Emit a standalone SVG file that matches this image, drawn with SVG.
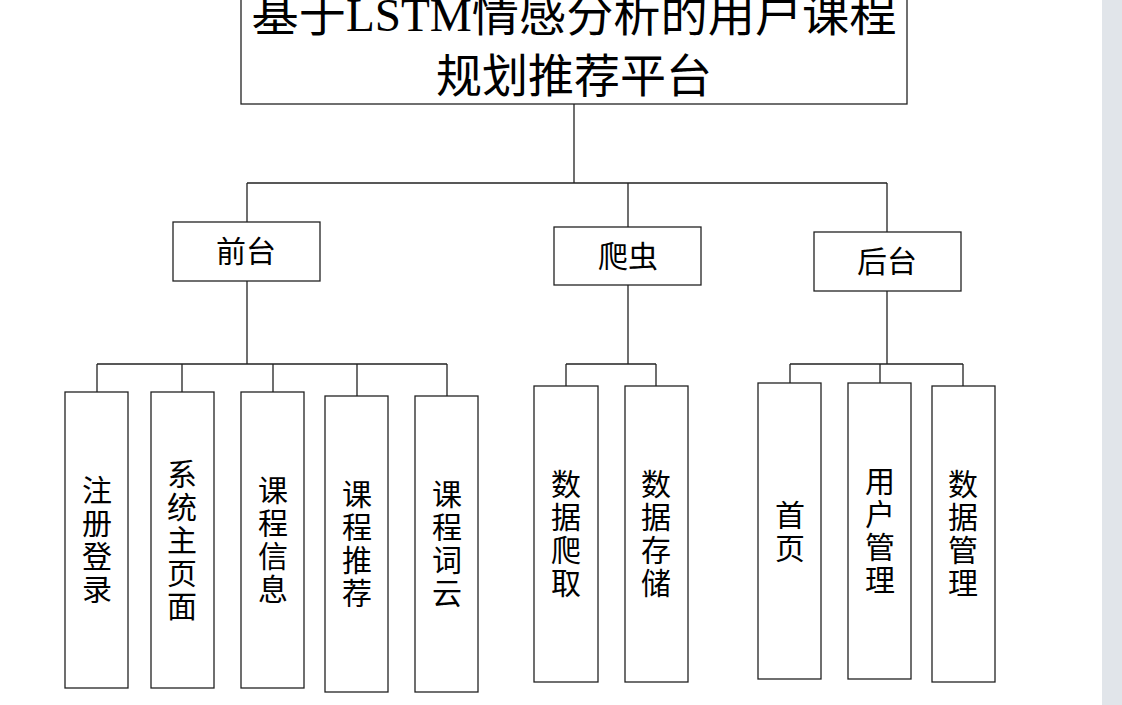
<svg xmlns="http://www.w3.org/2000/svg" width="1122" height="705" viewBox="0 0 1122 705">
<style>
.box{fill:#fff;stroke:#222;stroke-width:1.3}
.ln{fill:none;stroke:#222;stroke-width:1.3}
.t{font-family:"Noto Sans CJK SC","Liberation Serif",serif;fill:#000;text-anchor:middle}
.big{font-size:46px;font-family:"Liberation Serif","Noto Sans CJK SC",serif}
.mid{font-size:30px}
.v{font-size:30px}
</style>
<rect x="0" y="0" width="1122" height="705" fill="#fff"/>
<rect x="1102" y="0" width="20" height="705" fill="#e1e5ea"/>
<g id="connectors">
<path class="ln" d="M574 104V183M247 183H887M247 183V222M628 183V227M887 183V232"/>
<path class="ln" d="M247 281V364M97 364H447M97 364V392M182 364V392M273 364V392M357 364V396M447 364V396"/>
<path class="ln" d="M628 285V364M566 364H656M566 364V386M656 364V386"/>
<path class="ln" d="M887 291V364M790 364H963M790 364V383M880 364V383M963 364V386"/>
</g>
<g id="root">
<rect class="box" x="241" y="-10" width="666" height="114"/>
<text class="t big" x="574" y="31" textLength="645" lengthAdjust="spacingAndGlyphs">基于LSTM情感分析的用户课程</text>
<text class="t big" x="574" y="92">规划推荐平台</text>
</g>
<g id="frontend">
<rect class="box" x="173" y="222" width="147" height="59"/>
<text class="t mid" x="246" y="262">前台</text>
</g>
<g id="crawler">
<rect class="box" x="554" y="227" width="147" height="58"/>
<text class="t mid" x="628" y="267">爬虫</text>
</g>
<g id="backend">
<rect class="box" x="814" y="232" width="147" height="59"/>
<text class="t mid" x="887" y="272">后台</text>
</g>
<g id="n1">
<rect class="box" x="65" y="392" width="63" height="296"/>
<text class="t v" x="97"><tspan x="97" y="501">注</tspan><tspan x="97" y="534">册</tspan><tspan x="97" y="567">登</tspan><tspan x="97" y="600">录</tspan></text>
</g>
<g id="n2">
<rect class="box" x="151" y="392" width="63" height="296"/>
<text class="t v"><tspan x="182" y="485">系</tspan><tspan x="182" y="518">统</tspan><tspan x="182" y="551">主</tspan><tspan x="182" y="584">页</tspan><tspan x="182" y="617">面</tspan></text>
</g>
<g id="n3">
<rect class="box" x="241" y="392" width="63" height="296"/>
<text class="t v"><tspan x="273" y="501">课</tspan><tspan x="273" y="534">程</tspan><tspan x="273" y="567">信</tspan><tspan x="273" y="600">息</tspan></text>
</g>
<g id="n4">
<rect class="box" x="325" y="396" width="63" height="296"/>
<text class="t v"><tspan x="357" y="505">课</tspan><tspan x="357" y="538">程</tspan><tspan x="357" y="571">推</tspan><tspan x="357" y="604">荐</tspan></text>
</g>
<g id="n5">
<rect class="box" x="415" y="396" width="63" height="296"/>
<text class="t v"><tspan x="447" y="505">课</tspan><tspan x="447" y="538">程</tspan><tspan x="447" y="571">词</tspan><tspan x="447" y="604">云</tspan></text>
</g>
<g id="n6">
<rect class="box" x="534" y="386" width="64" height="296"/>
<text class="t v"><tspan x="566" y="495">数</tspan><tspan x="566" y="528">据</tspan><tspan x="566" y="561">爬</tspan><tspan x="566" y="594">取</tspan></text>
</g>
<g id="n7">
<rect class="box" x="625" y="386" width="63" height="296"/>
<text class="t v"><tspan x="656" y="495">数</tspan><tspan x="656" y="528">据</tspan><tspan x="656" y="561">存</tspan><tspan x="656" y="594">储</tspan></text>
</g>
<g id="n8">
<rect class="box" x="758" y="383" width="63" height="296"/>
<text class="t v"><tspan x="790" y="526">首</tspan><tspan x="790" y="559">页</tspan></text>
</g>
<g id="n9">
<rect class="box" x="848" y="383" width="63" height="296"/>
<text class="t v"><tspan x="880" y="492">用</tspan><tspan x="880" y="525">户</tspan><tspan x="880" y="558">管</tspan><tspan x="880" y="591">理</tspan></text>
</g>
<g id="n10">
<rect class="box" x="932" y="386" width="63" height="296"/>
<text class="t v"><tspan x="963" y="495">数</tspan><tspan x="963" y="528">据</tspan><tspan x="963" y="561">管</tspan><tspan x="963" y="594">理</tspan></text>
</g>
</svg>
